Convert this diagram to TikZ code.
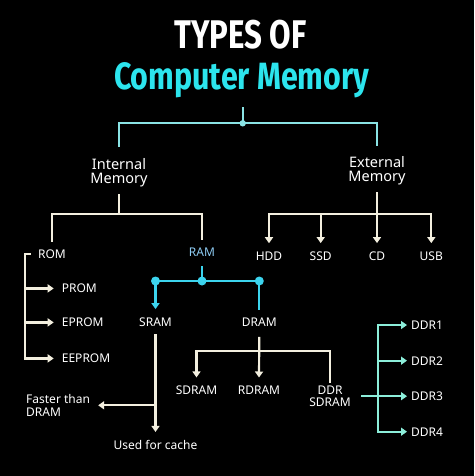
\documentclass[tikz,border=0pt]{standalone}
\usepackage{fontspec}
\usepackage{graphicx}
\setmainfont{Noto Sans}
\newfontfamily\titlefont{Fira Sans}
\usetikzlibrary{arrows.meta}
\definecolor{linewhite}{HTML}{F3EFDF}
\definecolor{titlecyan}{HTML}{2CE5EE}
\definecolor{topcyan}{HTML}{8AE3E4}
\definecolor{ramcyan}{HTML}{3CD4EE}
\definecolor{ramtext}{HTML}{8DCBF3}
\definecolor{ddrteal}{HTML}{8CEEDA}
\tikzset{
  lbl/.style={text=white, font=\fontsize{12}{12.4}\selectfont, inner sep=4pt, align=center},
  biglbl/.style={lbl, font=\fontsize{14.5}{14}\selectfont},
  titletxt/.style={inner sep=0pt, anchor=base, font=\titlefont\bfseries\fontsize{40}{40}\selectfont},
  wline/.style={draw=linewhite, line width=2.2pt, line cap=rect},
  warr/.style={wline, -{Triangle[width=8pt,length=6pt]}, shorten >=4pt},
  topline/.style={draw=topcyan, line width=2pt, line cap=rect},
  ramline/.style={draw=ramcyan, line width=2.2pt, line cap=rect},
  ramarr/.style={ramline, -{Triangle[width=8pt,length=6pt]}, shorten >=4pt},
  ddrline/.style={draw=ddrteal, line width=2.2pt, line cap=rect},
  ddrarr/.style={ddrline, -{Triangle[width=8pt,length=6pt]}}
}
\begin{document}
\begin{tikzpicture}[x=1pt, y=-1pt]
  \fill[black] (0,0) rectangle (474,476);
  \useasboundingbox (0,0) rectangle (474,476);
  % titles
  \node[titletxt, text=white] (title1) at (240.3,49) {\scalebox{0.78}[1]{TYPES OF}};
  \node[titletxt, text=titlecyan] (title2) at (241.7,90) {\fontsize{38}{38}\selectfont\scalebox{0.8}[1]{Computer Memory}};
  % labels
  \node[biglbl] (intm) at (119,172.5) {Internal\\Memory};
  \node[biglbl] (extm) at (377,171.2) {External\\Memory};
  \node[lbl, anchor=base] (rom) at (52,258.3) {ROM};
  \node[lbl, anchor=base, text=ramtext] (ram) at (202,256.7) {RAM};
  \node[lbl, anchor=base west] (prom) at (57.7,292.7) {PROM};
  \node[lbl, anchor=base west] (eprom) at (57.7,326.7) {EPROM};
  \node[lbl, anchor=base west] (eeprom) at (57.7,362.7) {EEPROM};
  \node[lbl, anchor=base] (hdd) at (269,260) {HDD};
  \node[lbl, anchor=base] (ssd) at (320.7,260) {SSD};
  \node[lbl, anchor=base] (cd) at (377,260) {CD};
  \node[lbl, anchor=base] (usb) at (431.3,260) {USB};
  \node[lbl, anchor=base] (sram) at (155.5,326) {SRAM};
  \node[lbl, anchor=base] (dram) at (259.3,326.7) {DRAM};
  \node[lbl, anchor=west, align=left] (faster) at (22,405.3) {Faster than\\DRAM};
  \node[lbl, anchor=base] (cache) at (155.5,449.3) {Used for cache};
  \node[lbl, anchor=base] (sdram) at (196.5,394.3) {SDRAM};
  \node[lbl, anchor=base] (rdram) at (259,394.3) {RDRAM};
  \node[lbl] (ddrs) at (330,396.2) {DDR\\SDRAM};
  \node[lbl, anchor=base west] (ddr1) at (407,329.3) {DDR1};
  \node[lbl, anchor=base west] (ddr2) at (407,365) {DDR2};
  \node[lbl, anchor=base west] (ddr3) at (407,400.7) {DDR3};
  \node[lbl, anchor=base west] (ddr4) at (407,436) {DDR4};
  % junctions
  \coordinate (topdot) at (242.7,123.3);
  \coordinate (intbar) at (119,213.7);
  \coordinate (extbar) at (377,214.3);
  \coordinate (romx) at (25,254);
  \coordinate (ramdot) at (202,281);
  \coordinate (dbar) at (259,350.7);
  \coordinate (ddrx) at (377.7,325.7);
  % top bracket
  \draw[topline] (topdot) -- ++(0,-15);
  \draw[topline, shorten <=8pt, shorten >=8pt] (intm.north) |- (topdot) -| (extm.north);
  \fill[topcyan] (topdot) circle (3.2pt);
  % internal memory
  \draw[wline, shorten <=4pt] (intm.south) -- (intbar);
  \draw[wline, shorten <=4.5pt, shorten >=4.5pt] (rom.north) |- (intbar) -| (ram.north);
  % ROM
  \draw[wline, shorten <=4pt] (rom.west) -| (romx |- eeprom.west);
  \foreach \n in {prom,eprom,eeprom}
    \draw[warr] (romx |- \n.west) -- (\n.west);
  % external memory
  \draw[warr, shorten <=3pt] (extm.south) -- (cd.north);
  \draw[wline] (hdd |- extbar) -- (usb |- extbar);
  \foreach \n in {hdd,ssd,usb}
    \draw[warr] (\n |- extbar) -- (\n.north);
  % RAM
  \draw[ramline, shorten <=6pt] (ram.south) -- (ramdot);
  \draw[ramline] (sram |- ramdot) -- (dram |- ramdot);
  \draw[ramarr] (sram |- ramdot) -- (sram.north);
  \draw[ramline, shorten >=5pt] (dram |- ramdot) -- (dram.north);
  \foreach \n in {sram,ram,dram}
    \fill[ramcyan] (\n |- ramdot) circle (4.5pt);
  % SRAM
  \draw[warr, shorten <=5pt] (sram.south) -- (cache.north);
  \draw[warr] (sram |- faster.east) -- (faster.east);
  % DRAM
  \draw[warr, shorten <=7pt] (dram.south) -- (rdram.north);
  \draw[wline] (sdram |- dbar) -- (ddrs |- dbar);
  \draw[warr] (sdram |- dbar) -- (sdram.north);
  \draw[wline] (ddrs |- dbar) -- (ddrs.north);
  % DDR SDRAM
  \draw[ddrarr, shorten <=7pt] (ddrs.east) -- (ddrs.east -| ddr3.west);
  \draw[ddrline] (ddrx |- ddr1.west) -- (ddrx |- ddr4.west);
  \foreach \n in {ddr1,ddr2,ddr4}
    \draw[ddrarr] (ddrx |- \n.west) -- (\n.west);
\end{tikzpicture}
\end{document}
